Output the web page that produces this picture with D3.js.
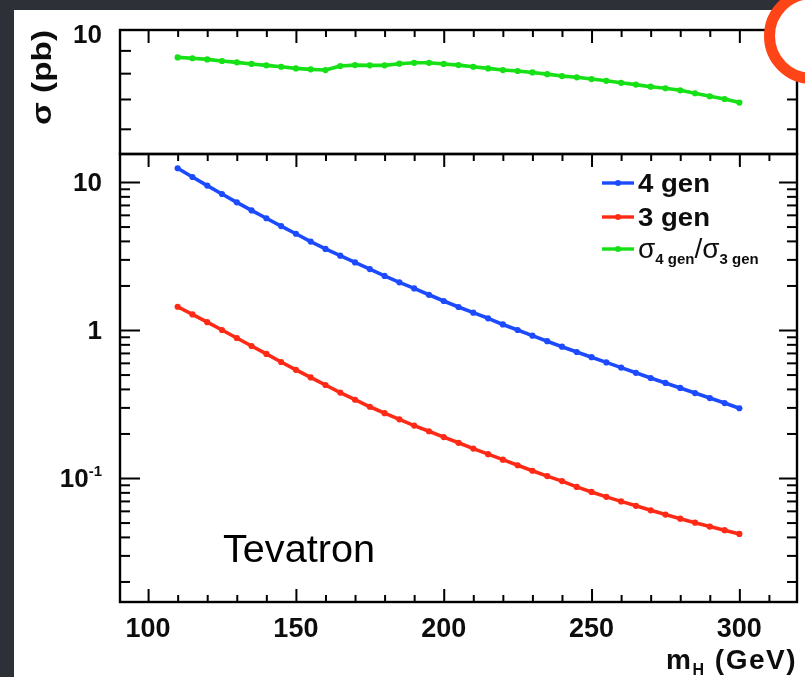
<!DOCTYPE html>
<html><head><meta charset="utf-8">
<script src="https://cdn.jsdelivr.net/npm/d3@7"></script>
<style>
html,body{margin:0;padding:0;background:#2d3037;}
svg{display:block;}
</style></head><body>
<svg id="c" width="805" height="677"></svg>
<script>
// ---- data ----
const massGeV = [110,115,120,125,130,135,140,145,150,155,160,165,170,175,180,185,190,195,200,205,210,215,220,225,230,235,240,245,250,255,260,265,270,275,280,285,290,295,300];
const sigma4gen = [12.39,10.81,9.46,8.30,7.29,6.43,5.69,5.04,4.47,3.96,3.53,3.18,2.86,2.58,2.32,2.10,1.91,1.73,1.57,1.43,1.31,1.20,1.09,1.00,0.916,0.840,0.771,0.710,0.655,0.604,0.557,0.514,0.474,0.439,0.406,0.375,0.347,0.321,0.296];
const sigma3gen = [1.436,1.274,1.130,1.000,0.883,0.780,0.689,0.608,0.538,0.478,0.425,0.378,0.338,0.303,0.274,0.249,0.226,0.207,0.189,0.173,0.158,0.145,0.133,0.122,0.112,0.103,0.0953,0.0871,0.0805,0.0746,0.0695,0.0649,0.0605,0.0566,0.0531,0.0499,0.0470,0.0444,0.0419];
const ratio4to3 = [8.68,8.64,8.59,8.52,8.46,8.39,8.33,8.27,8.20,8.16,8.13,8.30,8.34,8.33,8.33,8.40,8.44,8.44,8.39,8.34,8.27,8.20,8.13,8.09,8.03,7.96,7.88,7.83,7.76,7.69,7.61,7.54,7.46,7.40,7.32,7.21,7.10,7.00,6.87];

const xMajorTicks = [100,150,200,250,300];
const xTickLabels = ["100","150","200","250","300"];
const xMinorTicks = [110,120,130,140,160,170,180,190,210,220,230,240,260,270,280,290,310];
const yMainMajor = [0.1,1,10];
const yMainLabels = [["10","-1"],["1",""],["10",""]];
const yMainMinor = [0.02,0.03,0.04,0.05,0.06,0.07,0.08,0.09,0.2,0.3,0.4,0.5,0.6,0.7,0.8,0.9,2,3,4,5,6,7,8,9];
const yRatioMinor = [6,7,8,9];
const yRatioLabels = ["10"];
const legendNames = ["4 gen","3 gen","ratio"];

// ---- styles ----
const colBlue = "#1f4cff", colRed = "#ff2a14", colGreen = "#14e014";
const font = "'Liberation Sans', Arial, Helvetica, sans-serif";

const svgRoot = d3.select("#c");
const defs = svgRoot.append("defs");
defs.append("filter").attr("id","soft").attr("x","-5%").attr("y","-5%").attr("width","110%").attr("height","110%")
  .append("feGaussianBlur").attr("stdDeviation",0.6);
svgRoot.append("rect").attr("width",805).attr("height",677).attr("fill","#2d3037");
svgRoot.append("rect").attr("x",14).attr("y",10).attr("width",791).attr("height",667).attr("fill","#ffffff");
const svg = svgRoot.append("g").attr("filter","url(#soft)");

// ---- scales ----
const x = d3.scaleLinear().domain([90.5,319.5]).range([120,797]);
const yMain = d3.scaleLog().domain([0.01453,15.46]).range([602,154]);
const yRatio = d3.scaleLog().domain([5.24,10]).range([155,30]);

function styleAxis(g){
  g.select(".domain").remove();
  g.selectAll(".tick line").attr("stroke","#000").attr("stroke-width",2);
  g.selectAll(".tick text").remove();
}
function addAxis(gen, tx, ty){
  svg.append("g").attr("transform",`translate(${tx},${ty})`).call(gen).call(styleAxis);
}
// x ticks
[[602,"b"],[154,"t"],[30,"t"]].forEach(([yy,side])=>{
  const mk = side==="b" ? d3.axisBottom : d3.axisTop;
  addAxis(mk(x).tickValues(xMinorTicks).tickSize(-7).tickFormat(""),0,yy);
  addAxis(mk(x).tickValues(xMajorTicks).tickSize(-13).tickFormat(""),0,yy);
});
// y ticks main panel
addAxis(d3.axisLeft(yMain).tickValues(yMainMinor).tickSize(-10).tickFormat(""),120,0);
addAxis(d3.axisLeft(yMain).tickValues(yMainMajor).tickSize(-20).tickFormat(""),120,0);
addAxis(d3.axisRight(yMain).tickValues(yMainMinor).tickSize(-10).tickFormat(""),797,0);
addAxis(d3.axisRight(yMain).tickValues(yMainMajor).tickSize(-18).tickFormat(""),797,0);
// y ticks ratio panel
addAxis(d3.axisLeft(yRatio).tickValues(yRatioMinor).tickSize(-11).tickFormat(""),120,0);
addAxis(d3.axisRight(yRatio).tickValues(yRatioMinor).tickSize(-10).tickFormat(""),797,0);

// frames
svg.append("rect").attr("x",120).attr("y",30).attr("width",677).attr("height",124)
  .attr("fill","none").attr("stroke","#000").attr("stroke-width",2.4);
svg.append("rect").attr("x",120).attr("y",154).attr("width",677).attr("height",448)
  .attr("fill","none").attr("stroke","#000").attr("stroke-width",2.4);

// ---- series ----
function drawSeries(vals, yScale, col){
  const pts = massGeV.map((m,i)=>({m, v: vals[i]}));
  const line = d3.line().x(d=>x(d.m)).y(d=>yScale(d.v));
  svg.append("path").datum(pts).attr("d",line).attr("fill","none")
    .attr("stroke",col).attr("stroke-width",3.6).attr("stroke-linejoin","round");
  svg.append("g").selectAll("circle").data(pts).join("circle")
    .attr("cx",d=>x(d.m)).attr("cy",d=>yScale(d.v)).attr("r",3.1).attr("fill",col);
}
drawSeries(ratio4to3, yRatio, colGreen);
drawSeries(sigma4gen, yMain, colBlue);
drawSeries(sigma3gen, yMain, colRed);

// ---- tick labels ----
const lab = svg.append("g").attr("font-family",font).attr("font-weight","bold").attr("fill","#111");
xMajorTicks.forEach((v,i)=>{
  lab.append("text").attr("x",x(v)).attr("y",637).attr("text-anchor","middle")
    .attr("font-size",27).text(xTickLabels[i]);
});
yMainMajor.forEach((v,i)=>{
  const t = lab.append("text").attr("x",102).attr("y",yMain(v)+9).attr("text-anchor","end").attr("font-size",26);
  t.append("tspan").text(yMainLabels[i][0]);
  if (yMainLabels[i][1]) t.append("tspan").attr("font-size",15).attr("dy",-11).text(yMainLabels[i][1]);
});
lab.append("text").attr("x",102).attr("y",yRatio(10)+13).attr("text-anchor","end").attr("font-size",26).text(yRatioLabels[0]);

// axis titles
lab.append("text").attr("transform","translate(51,30) rotate(-90)").attr("text-anchor","end")
  .attr("font-size",27).attr("textLength",95).attr("lengthAdjust","spacingAndGlyphs").text("σ (pb)");
const xt = lab.append("text").attr("x",797).attr("y",669).attr("text-anchor","end").attr("font-size",28)
  .attr("letter-spacing",1.5);
xt.append("tspan").text("m");
xt.append("tspan").attr("font-size",16).attr("dy",6).text("H");
xt.append("tspan").attr("dy",-6).text(" (GeV)");

// legend
const legCols = [colBlue, colRed, colGreen];
const legY = [183, 217, 249];
legendNames.forEach((n,i)=>{
  svg.append("line").attr("x1",602).attr("x2",634).attr("y1",legY[i]).attr("y2",legY[i])
    .attr("stroke",legCols[i]).attr("stroke-width",3.4);
  svg.append("circle").attr("cx",618).attr("cy",legY[i]).attr("r",3).attr("fill",legCols[i]);
  const t = lab.append("text").attr("x",638).attr("y",legY[i]+9).attr("font-size",26);
  if (n === "ratio"){
    t.append("tspan").attr("font-weight","normal").attr("font-size",28).text("σ");
    t.append("tspan").attr("font-size",15).attr("dy",6).text("4 gen");
    t.append("tspan").attr("font-weight","normal").attr("font-size",28).attr("dy",-6).text("/σ");
    t.append("tspan").attr("font-size",15).attr("dy",6).text("3 gen");
  } else {
    t.attr("textLength",72).attr("lengthAdjust","spacingAndGlyphs").text(n);
  }
});

// Tevatron label
svg.append("text").attr("x",223).attr("y",562).attr("font-family",font).attr("font-size",38)
  .attr("textLength",152).attr("lengthAdjust","spacingAndGlyphs")
  .attr("fill","#000").text("Tevatron");

// red annotation circle
svgRoot.append("circle").attr("cx",812).attr("cy",36).attr("r",42.5).attr("fill","#fff")
  .attr("stroke","#ff4518").attr("stroke-width",11);
</script>
</body></html>
